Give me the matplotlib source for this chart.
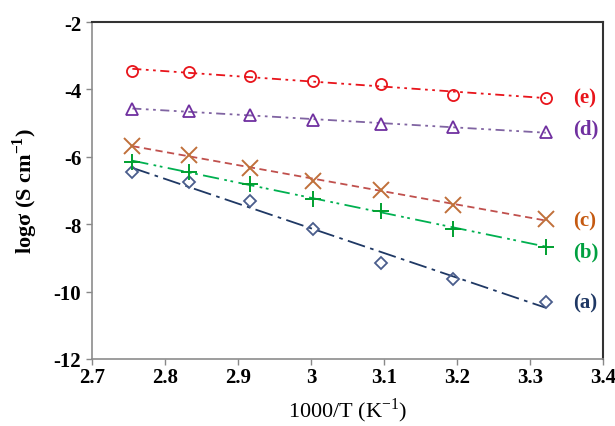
import numpy as np
import matplotlib
matplotlib.use("Agg")
import matplotlib.pyplot as plt

# 1000/T values (K^-1)
inv_T = [2.755, 2.833, 2.917, 3.003, 3.096, 3.195, 3.322]

# log conductivity per sample
series_a = [-6.46, -6.75, -7.31, -8.13, -9.16, -9.62, -10.31]
series_b = [-6.14, -6.46, -6.82, -7.24, -7.60, -8.13, -8.67]
series_c = [-5.67, -5.94, -6.34, -6.71, -6.99, -7.43, -7.85]
series_d = [-4.58, -4.64, -4.75, -4.90, -5.03, -5.12, -5.27]
series_e = [-3.46, -3.47, -3.59, -3.76, -3.85, -4.16, -4.24]

labels = ["(a)", "(b)", "(c)", "(d)", "(e)"]
label_y = [-10.33, -8.8, -7.9, -5.15, -4.24]

x_ticks = [2.7, 2.8, 2.9, 3.0, 3.1, 3.2, 3.3, 3.4]
x_tick_labels = ["2.7", "2.8", "2.9", "3", "3.1", "3.2", "3.3", "3.4"]
y_ticks = [-12, -10, -8, -6, -4, -2]

plt.rcParams["font.family"] = ["Liberation Serif", "DejaVu Serif"]
plt.rcParams["axes.unicode_minus"] = False
plt.rcParams["mathtext.fontset"] = "custom"
plt.rcParams["mathtext.rm"] = "Liberation Serif"
plt.rcParams["mathtext.bf"] = "Liberation Serif:bold"

styles = [
    # marker, marker size, marker colour, line colour, dashes, text colour
    dict(marker="D", ms=6.5, mc="#4a5d8c", lc="#1f3864", dashes=(10, 3, 2, 3), tc="#1f3864"),
    dict(marker="+", ms=12, mc="#00a030", lc="#00b050", dashes=(9, 3, 1.5, 2, 1.5, 3), tc="#00a040"),
    dict(marker="x", ms=12, mc="#c0703a", lc="#c0504d", dashes=(4, 2.5), tc="#c55a11"),
    dict(marker="^", ms=8, mc="#7030a0", lc="#8064a2", dashes=(5, 2.5, 1.5, 2.5, 1.5, 2.5), tc="#7030a0"),
    dict(marker="o", ms=8, mc="#e8141b", lc="#e8141b", dashes=(5, 2.5, 1.5, 2.5, 1.5, 2.5), tc="#e8141b"),
]

fig = plt.figure(figsize=(6.15, 4.27), dpi=100)
ax = fig.add_axes([0.150, 0.157, 0.830, 0.789])

x = np.array(inv_T)
for ys, st, lab, ly in zip([series_a, series_b, series_c, series_d, series_e], styles, labels, label_y):
    ys = np.array(ys)
    # linear trend line through the points
    k, b = np.polyfit(x, ys, 1)
    xs = np.array([x[0], x[-1]])
    ax.plot(xs, k * xs + b, color=st["lc"], lw=1.3, dashes=st["dashes"], zorder=2)
    if st["marker"] in ("+", "x"):
        ax.plot(x, ys, linestyle="none", marker=st["marker"], ms=st["ms"],
                color=st["mc"], mew=1.4, zorder=3)
    else:
        ax.plot(x, ys, linestyle="none", marker=st["marker"], ms=st["ms"],
                mfc="none", mec=st["mc"], mew=1.3, zorder=3)
    ax.text(3.360, ly, lab, color=st["tc"], fontsize=15, fontweight="bold",
            va="center", ha="left")

ax.set_xlim(2.7, 3.4)
ax.set_ylim(-12, -2)
ax.set_xticks(x_ticks)
ax.set_xticklabels(x_tick_labels)
ax.set_yticks(y_ticks)
for t in ax.get_xticklabels() + ax.get_yticklabels():
    t.set_fontweight("bold")
    t.set_fontsize(15)
ax.tick_params(direction="out", length=4, width=1, color="#888888", pad=2)
ax.tick_params(axis="y", pad=4)

for side in ("left", "bottom"):
    ax.spines[side].set_color("#8c8c8c")
    ax.spines[side].set_linewidth(1.2)
for side in ("top", "right"):
    ax.spines[side].set_color("#333333")
    ax.spines[side].set_linewidth(1.5)

ax.set_xlabel("1000/T (K$^{-1}$)", fontsize=16, labelpad=6)
ax.set_ylabel("log\u03c3 (S cm$^{\\mathbf{-1}}$)", fontsize=16, fontweight="bold", labelpad=10)

fig.savefig("out.png", dpi=100)
